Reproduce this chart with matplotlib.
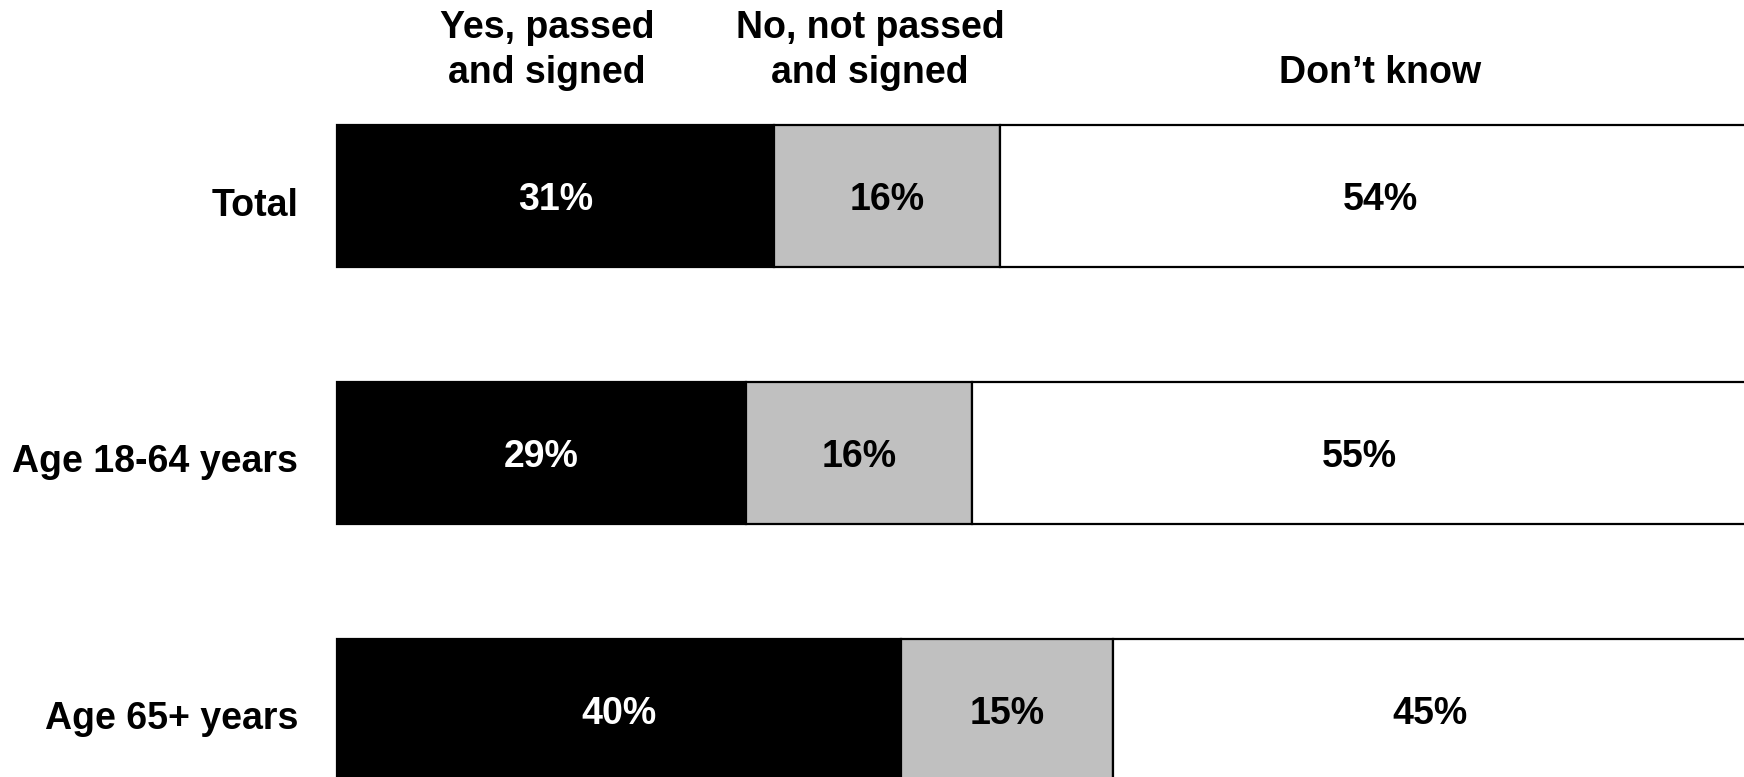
import matplotlib
matplotlib.use("Agg")
import matplotlib.pyplot as plt
import numpy as np

plt.rcParams['font.family'] = ['Liberation Sans', 'DejaVu Sans']
plt.rcParams['font.weight'] = 'bold'

# data
groups = ["Total", "Age 18-64 years", "Age 65+ years"]
answers = ["Yes, passed\nand signed", "No, not passed\nand signed", "Don\u2019t know"]
yes_vals = [31, 29, 40]
no_vals = [16, 16, 15]
dk_vals = [54, 55, 45]

colors = ["#000000", "#C0C0C0", "#FFFFFF"]
text_colors = ["white", "black", "black"]
FS = 27

fig = plt.figure(figsize=(17.44, 7.77), dpi=100)
# axes placed in pixel terms: bars start at x=337, 100% = 1410 px
ax = fig.add_axes([337 / 1744, 0, 1410 / 1744, 1])
ax.set_xlim(0, 100)
ax.set_ylim(2.261, -0.763)
ax.axis('off')

y = np.arange(len(groups))
series = [yes_vals, no_vals, dk_vals]
left = np.zeros(len(groups))
for vals, c, tc in zip(series, colors, text_colors):
    vals = np.array(vals, dtype=float)
    ax.barh(y, vals, left=left, height=0.555, color=c,
            edgecolor="black", linewidth=1.6, clip_on=False)
    for yi, l, v in zip(y, left, vals):
        ax.text(l + v / 2, yi + 0.017, f"{int(v)}%", ha='center', va='center',
                color=tc, fontsize=FS, fontweight='bold')
    left += vals

# row labels (sit a bit below the bar centre)
for yi, g in zip(y, groups):
    ax.text(-2.75, yi + 0.037, g, ha='right', va='center', fontsize=FS, fontweight='bold')

# column headers above the first row's segments
first = np.array([yes_vals[0], no_vals[0], dk_vals[0]], dtype=float)
mids = np.cumsum(first) - first / 2
offsets = [-0.6, -1.2, 0]
for m, o, a in zip(mids, offsets, answers):
    ax.text(m + o, 694 / 777, a, transform=ax.get_xaxis_transform(),
            ha='center', va='baseline', fontsize=FS, fontweight='bold',
            linespacing=1.32, multialignment='center')

fig.savefig("out.png", dpi=100)
